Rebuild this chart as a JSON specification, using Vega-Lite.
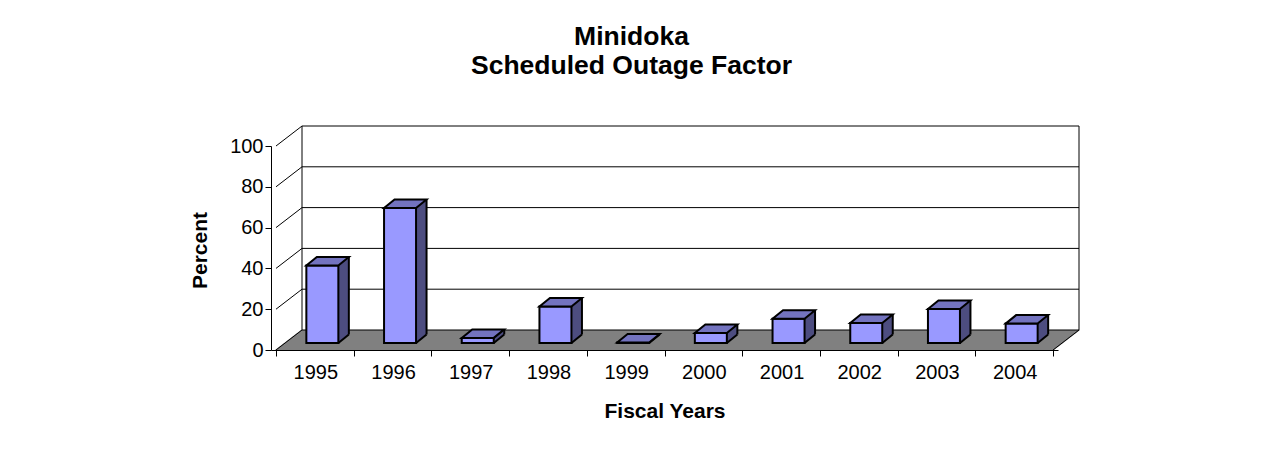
{
  "$schema": "https://vega.github.io/schema/vega-lite/v6.json",
  "autosize": {"type": "none"},
  "padding": {"left": 271, "top": 146, "right": 205, "bottom": 105},
  "width": 787,
  "height": 204,
  "background": "white",
  "title": {
    "text": ["Minidoka", "Scheduled Outage Factor"],
    "anchor": "middle",
    "frame": "group",
    "dx": -33,
    "font": "Liberation Sans",
    "fontSize": 26.5,
    "fontWeight": "bold",
    "lineHeight": 29,
    "color": "#000000",
    "offset": 46
  },
  "data": {
    "values": [
      {"year": 1995, "value": 38},
      {"year": 1996, "value": 66.2},
      {"year": 1997, "value": 2.5},
      {"year": 1998, "value": 17.9},
      {"year": 1999, "value": 0.2},
      {"year": 2000, "value": 4.9},
      {"year": 2001, "value": 11.9},
      {"year": 2002, "value": 9.8},
      {"year": 2003, "value": 16.7},
      {"year": 2004, "value": 9.5}
    ]
  },
  "layer": [
    {
      "mark": {"type": "point", "shape": "M-39.9,0 L39.9,0 L65.9,-20 L-13.9,-20 Z", "size": 4, "filled": true, "fill": "#808080", "strokeWidth": 0, "opacity": 1},
      "encoding": {
        "x": {"field": "year", "type": "quantitative"},
        "y": {"datum": 0, "type": "quantitative"}
      }
    },
    {
      "data": {"values": [{"g": 0}, {"g": 20}, {"g": 40}, {"g": 60}, {"g": 80}, {"g": 100}]},
      "mark": {"type": "rule", "color": "#000000", "strokeWidth": 1, "xOffset": 26, "x2Offset": 26, "yOffset": -20},
      "encoding": {
        "x": {"datum": 1994.5, "type": "quantitative"},
        "x2": {"datum": 2004.5},
        "y": {"field": "g", "type": "quantitative", "title": "Percent"}
      }
    },
    {
      "data": {"values": [{"g": 0}, {"g": 20}, {"g": 40}, {"g": 60}, {"g": 80}, {"g": 100}]},
      "mark": {"type": "rule", "color": "#000000", "strokeWidth": 1, "x2Offset": 26, "y2Offset": -20},
      "encoding": {
        "x": {"datum": 1994.5, "type": "quantitative"},
        "x2": {"datum": 1994.5},
        "y": {"field": "g", "type": "quantitative", "title": "Percent"},
        "y2": {"field": "g"}
      }
    },
    {
      "data": {"values": [{"edge": "left"}]},
      "mark": {"type": "rule", "color": "#000000", "strokeWidth": 1, "xOffset": 26, "yOffset": -20, "y2Offset": -20},
      "encoding": {
        "x": {"datum": 1994.5, "type": "quantitative"},
        "y": {"datum": 0, "type": "quantitative"},
        "y2": {"datum": 100}
      }
    },
    {
      "data": {"values": [{"edge": "right"}]},
      "mark": {"type": "rule", "color": "#000000", "strokeWidth": 1, "xOffset": 26, "yOffset": -20, "y2Offset": -20},
      "encoding": {
        "x": {"datum": 2004.5, "type": "quantitative"},
        "y": {"datum": 0, "type": "quantitative"},
        "y2": {"datum": 100}
      }
    },
    {
      "data": {"values": [{"edge": "floor"}]},
      "mark": {"type": "rule", "color": "#000000", "strokeWidth": 1, "x2Offset": 26, "y2Offset": -20},
      "encoding": {
        "x": {"datum": 2004.5, "type": "quantitative"},
        "x2": {"datum": 2004.5},
        "y": {"datum": 0, "type": "quantitative"},
        "y2": {"datum": 0}
      }
    },
    {
      "mark": {"type": "bar", "orient": "vertical", "fill": "#4D4D80", "strokeWidth": 0, "width": 10.5, "xOffset": 28.75, "yOffset": -15.5, "y2Offset": -7},
      "encoding": {
        "x": {"field": "year", "type": "quantitative"},
        "y": {"field": "value", "type": "quantitative", "title": "Percent"},
        "y2": {"datum": 0}
      }
    },
    {
      "mark": {"type": "point", "shape": "M23.5,-7 L34,-15.5 L35.5,-15.5 L35.5,-5.5 L23.5,-5.5 Z", "size": 4, "filled": true, "fill": "#808080", "strokeWidth": 0, "opacity": 1},
      "encoding": {
        "x": {"field": "year", "type": "quantitative"},
        "y": {"datum": 0, "type": "quantitative"}
      }
    },
    {
      "mark": {"type": "rule", "color": "#000000", "strokeWidth": 2, "xOffset": 34, "yOffset": -15.5, "y2Offset": -15.5},
      "encoding": {
        "x": {"field": "year", "type": "quantitative"},
        "y": {"field": "value", "type": "quantitative", "title": "Percent"},
        "y2": {"datum": 0}
      }
    },
    {
      "mark": {"type": "point", "shape": "M23.5,-7 L34,-15.5", "size": 4, "filled": false, "fill": "none", "stroke": "#000000", "strokeWidth": 2, "opacity": 1},
      "encoding": {
        "x": {"field": "year", "type": "quantitative"},
        "y": {"datum": 0, "type": "quantitative"}
      }
    },
    {
      "mark": {"type": "bar", "orient": "vertical", "fill": "#9999FF", "stroke": "#000000", "strokeWidth": 2, "width": 32, "xOffset": 7.5, "yOffset": -7, "y2Offset": -7},
      "encoding": {
        "x": {
          "field": "year",
          "type": "quantitative",
          "scale": {"domain": [1994.5, 2004.5], "nice": false, "zero": false},
          "axis": {
            "values": [1994.5, 1995.5, 1996.5, 1997.5, 1998.5, 1999.5, 2000.5, 2001.5, 2002.5, 2003.5, 2004.5],
            "labelExpr": "datum.value < 2004 ? format(datum.value + 0.5, 'd') : ''",
            "labelOffset": 39.35,
            "labelFlush": false,
            "labelOverlap": false,
            "labelBound": false,
            "labelAngle": 0,
            "labelPadding": 6,
            "tickSize": 6,
            "grid": false,
            "title": "Fiscal Years",
            "titleY": 67,
            "titleX": 393.5,
            "titleAlign": "center",
            "titleBaseline": "alphabetic"
          }
        },
        "y": {
          "field": "value",
          "type": "quantitative",
          "scale": {"domain": [0, 100], "nice": false},
          "axis": {
            "values": [0, 20, 40, 60, 80, 100],
            "tickSize": 6,
            "labelPadding": 2,
            "grid": false,
            "title": "Percent",
            "titleX": -65,
            "titleY": 104,
            "titleAngle": 270,
            "titleAlign": "center",
            "titleBaseline": "alphabetic"
          }
        },
        "y2": {"datum": 0}
      }
    },
    {
      "mark": {"type": "point", "shape": "M-8.5,-7 L23.5,-7 L34,-15.5 L2,-15.5 Z", "size": 4, "filled": true, "fill": "#7373BF", "stroke": "#000000", "strokeWidth": 2, "opacity": 1},
      "encoding": {
        "x": {"field": "year", "type": "quantitative"},
        "y": {"field": "value", "type": "quantitative", "title": "Percent"}
      }
    }
  ],
  "config": {
    "view": {"stroke": null},
    "font": "Liberation Sans",
    "axis": {
      "labelFont": "Liberation Sans",
      "labelFontSize": 20,
      "labelColor": "#000000",
      "titleFont": "Liberation Sans",
      "titleFontSize": 21,
      "titleFontWeight": "bold",
      "titleColor": "#000000",
      "domainColor": "#000000",
      "domainWidth": 1,
      "tickColor": "#000000",
      "tickWidth": 1,
      "zindex": 1
    }
  }
}
